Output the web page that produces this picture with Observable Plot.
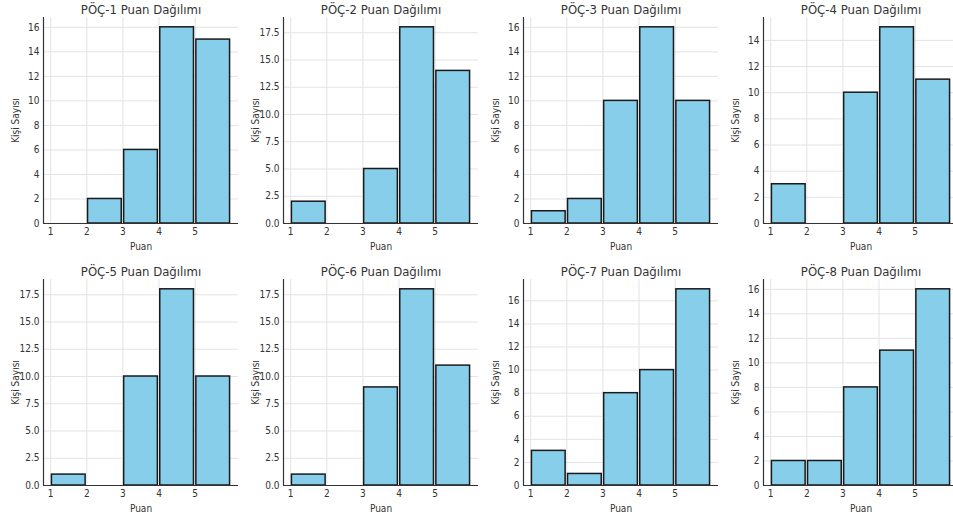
<!DOCTYPE html>
<html>
<head>
<meta charset="utf-8">
<script src="https://cdn.jsdelivr.net/npm/d3@7"></script>
<script src="https://cdn.jsdelivr.net/npm/@observablehq/plot@0.6"></script>
<style>
  html, body { margin: 0; padding: 0; background: #fff; overflow: hidden; width: 953px; height: 524px; }
  #grid { position: relative; width: 953px; height: 524px; }
  .panel { position: absolute; }
  svg text { font-stretch: condensed; }
</style>
</head>
<body>
<div id="grid"></div>
<script>
// ---- data ----
const titles = ["PÖÇ-1", "PÖÇ-2", "PÖÇ-3", "PÖÇ-4", "PÖÇ-5", "PÖÇ-6", "PÖÇ-7", "PÖÇ-8"];
const binStarts = [1, 2, 3, 4, 5];
const poc1 = [0, 2, 6, 16, 15];
const poc2 = [2, 0, 5, 18, 14];
const poc3 = [1, 2, 10, 16, 10];
const poc4 = [3, 0, 10, 15, 11];
const poc5 = [1, 0, 10, 18, 10];
const poc6 = [1, 0, 9, 18, 11];
const poc7 = [3, 1, 8, 10, 17];
const poc8 = [2, 2, 8, 11, 16];
const xTicks = [1, 2, 3, 4, 5];
const yTickSteps = [2, 2.5, 2, 2, 2.5, 2.5, 2, 2];
const xLabel = "Puan";
const yLabel = "Kişi Sayısı";
const titleSuffix = " Puan Dağılımı";

const series = [poc1, poc2, poc3, poc4, poc5, poc6, poc7, poc8];
const FONT = '"DejaVu Sans Condensed", "Liberation Sans Narrow", "DejaVu Sans", sans-serif';

const grid = document.getElementById("grid");
series.forEach((counts, i) => {
  const rows = binStarts.map((b, j) => ({x1: b, x2: b + 1, count: counts[j]}));
  const ymax = d3.max(counts) * 1.05;
  const step = yTickSteps[i];
  const yTicks = d3.range(0, ymax + 1e-9, step);
  const fmt = step % 1 ? d3.format(".1f") : d3.format("d");
  const xDom = [0.8, 6.2];
  const chart = Plot.plot({
    width: 240,
    height: 262,
    marginTop: 17,
    marginBottom: 39,
    marginLeft: 43,
    marginRight: 2,
    style: {fontFamily: FONT, fontSize: "10px", color: "#333", background: "transparent"},
    x: {domain: xDom},
    y: {domain: [0, ymax]},
    marks: [
      Plot.gridX(xTicks, {stroke: "#e3e3e3", strokeOpacity: 1}),
      Plot.gridY(yTicks, {stroke: "#e3e3e3", strokeOpacity: 1}),
      Plot.rectY(rows, {x1: "x1", x2: "x2", y1: 0, y2: "count", fill: "#87CEEB", stroke: "#1a1a1a", strokeWidth: 1.5, insetLeft: 1.2, insetRight: 1.2}),
      Plot.ruleX([xDom[0]], {stroke: "#333", strokeWidth: 1.2}),
      Plot.ruleY([0], {stroke: "#333", strokeWidth: 1.2}),
      Plot.axisX(xTicks, {tickSize: 0, tickPadding: 4, tickFormat: d3.format("d"), label: xLabel, labelAnchor: "center", labelArrow: "none", labelOffset: 26, fontSize: 10}),
      Plot.axisY(yTicks, {tickSize: 0, tickPadding: 4, tickFormat: fmt, label: yLabel, labelAnchor: "center", labelArrow: "none", labelOffset: 32, fontSize: 10}),
      Plot.text([titles[i] + titleSuffix], {frameAnchor: "top", dy: -13, fontSize: 13, fontWeight: "normal", fill: "#333"})
    ]
  });
  chart.classList.add("panel");
  chart.style.left = (240 * (i % 4)) + "px";
  chart.style.top = (262 * Math.floor(i / 4)) + "px";
  chart.style.overflow = "hidden";
  grid.appendChild(chart);
});
</script>
</body>
</html>
